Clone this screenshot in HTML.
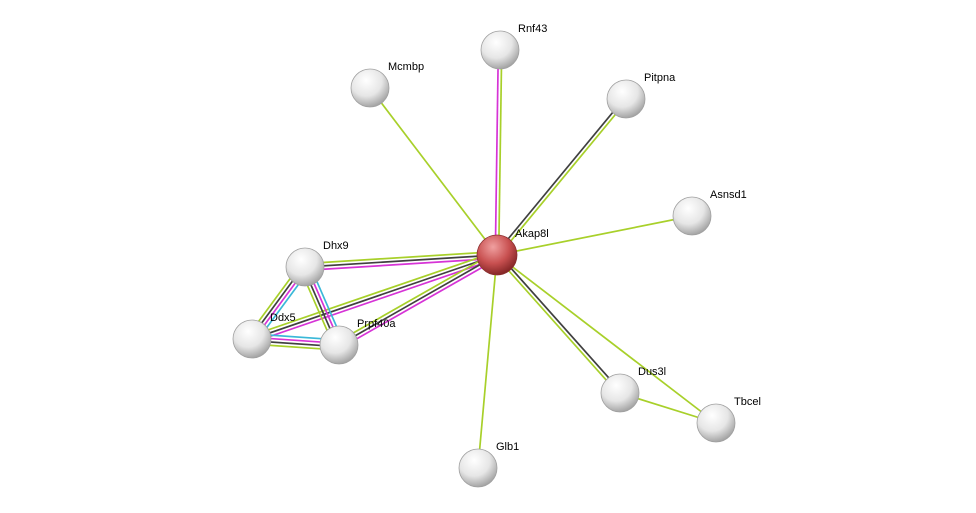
<!DOCTYPE html>
<html><head><meta charset="utf-8"><style>
html,body{margin:0;padding:0;background:#fff;}
svg{display:block;}
text{font-family:"Liberation Sans",sans-serif;font-size:11px;fill:#000;}
</style></head><body>
<svg id="s" width="976" height="513" xmlns="http://www.w3.org/2000/svg">
<defs>
<radialGradient id="g" cx="0.4" cy="0.3" r="0.75">
<stop offset="0" stop-color="#ffffff"/><stop offset="0.55" stop-color="#e6e6e6"/><stop offset="1" stop-color="#9a9a9a"/></radialGradient>
<radialGradient id="r" cx="0.4" cy="0.3" r="0.75">
<stop offset="0" stop-color="#f0a0a0"/><stop offset="0.55" stop-color="#c85050"/><stop offset="1" stop-color="#7a2020"/></radialGradient>
</defs>
<g id="edges"></g><g id="nodes"></g>
</svg>
<script>
var N={Akap8l:[497,255,1],Rnf43:[500,50],Mcmbp:[370,88],Pitpna:[626,99],Asnsd1:[692,216],Dhx9:[305,267],Ddx5:[252,339],Prpf40a:[339,345],Dus3l:[620,393],Tbcel:[716,423],Glb1:[478,468]};
var C={m:"#d633d6",k:"#404040",g:"#a8d02a",c:"#3ab8d8"};
var E=[["Akap8l","Rnf43","mg"],["Akap8l","Pitpna","kg"],["Akap8l","Mcmbp","g"],["Akap8l","Asnsd1","g"],["Akap8l","Glb1","g"],["Akap8l","Dus3l","kg"],["Akap8l","Tbcel","g"],["Dus3l","Tbcel","g"],["Akap8l","Dhx9","mkg"],["Akap8l","Ddx5","mkg"],["Akap8l","Prpf40a","mkg"],["Dhx9","Ddx5","cmkg"],["Dhx9","Prpf40a","cmkg"],["Ddx5","Prpf40a","cmkg"]];
var ns="http://www.w3.org/2000/svg",eg=document.getElementById("edges"),ng=document.getElementById("nodes");
E.forEach(function(e){var a=N[e[0]],b=N[e[1]],dx=b[0]-a[0],dy=b[1]-a[1],l=Math.hypot(dx,dy),px=-dy/l,py=dx/l,n=e[2].length;
for(var i=0;i<n;i++){var o=(i-(n-1)/2)*3.4,L=document.createElementNS(ns,"line");
L.setAttribute("x1",a[0]+px*o);L.setAttribute("y1",a[1]+py*o);L.setAttribute("x2",b[0]+px*o);L.setAttribute("y2",b[1]+py*o);
L.setAttribute("stroke",C[e[2][i]]);L.setAttribute("stroke-width","1.7");eg.appendChild(L);}});
for(var k in N){var p=N[k],c=document.createElementNS(ns,"circle");c.setAttribute("cx",p[0]);c.setAttribute("cy",p[1]);c.setAttribute("r",p[2]?20:19);
c.setAttribute("fill",p[2]?"url(#r)":"url(#g)");c.setAttribute("stroke",p[2]?"#8a3030":"#a0a0a0");c.setAttribute("stroke-width","0.8");ng.appendChild(c);
var t=document.createElementNS(ns,"text");t.setAttribute("x",p[0]+18);t.setAttribute("y",p[1]-18);t.textContent=k;ng.appendChild(t);}
</script>
</body></html>
